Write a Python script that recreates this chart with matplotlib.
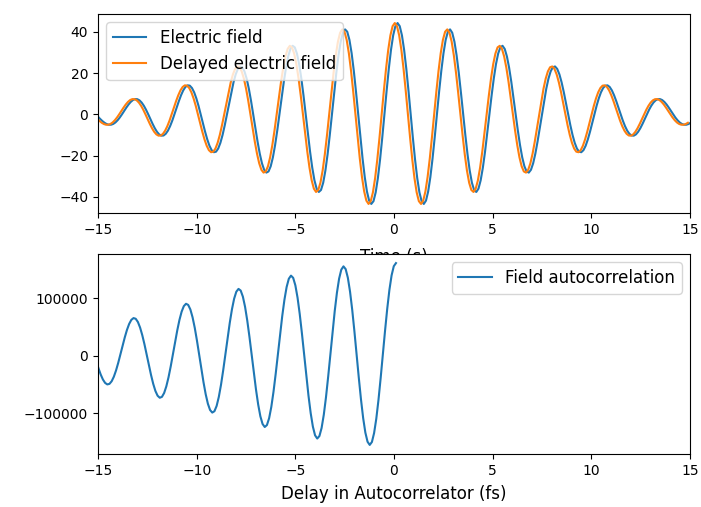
import numpy as np
import matplotlib
matplotlib.use("Agg")
import matplotlib.pyplot as plt

# electric field samples, first / last sample time
field_t_first = -15.004
field_t_last = 15.032
field = [
    -1.11, -2.22, -3.24, -4.10, -4.73, -5.06, -5.05, -4.68, -3.95, -2.88, -1.54, 0.0,
    1.64, 3.27, 4.77, 6.01, 6.92, 7.38, 7.34, 6.78, 5.70, 4.15, 2.21, 0.0,
    -2.34, -4.65, -6.75, -8.50, -9.75, -10.37, -10.29, -9.47, -7.94, -5.76, -3.06, 0.0,
    3.22, 6.38, 9.24, 11.60, 13.26, 14.06, 13.91, 12.76, 10.67, 7.72, 4.09, 0.0,
    -4.28, -8.45, -12.20, -15.28, -17.41, -18.40, -18.15, -16.61, -13.84, -9.99, -5.27, 0.0,
    5.48, 10.79, 15.55, 19.40, 22.04, 23.23, 22.84, 20.84, 17.32, 12.46, 6.56, 0.0,
    -6.78, -13.30, -19.11, -23.77, -26.93, -28.30, -27.74, -25.24, -20.90, -14.99, -7.87, 0.0,
    8.08, 15.82, 22.66, 28.10, 31.73, 33.25, 32.50, 29.48, 24.35, 17.41, 9.11, 0.0,
    -9.30, -18.15, -25.92, -32.05, -36.09, -37.70, -36.73, -33.22, -27.35, -19.50, -10.17, 0.0,
    10.33, 20.09, 28.61, 35.26, 39.58, 41.23, 40.07, 36.12, 29.65, 21.08, 10.96, 0.0,
    -11.06, -21.46, -30.46, -37.44, -41.90, -43.51, -42.15, -37.89, -31.01, -21.98, -11.39, 0.0,
    11.43, 22.11, 31.29, 38.35, 42.78,
    44.30,
    42.78, 38.35, 31.29, 22.11, 11.43, 0.0,
    -11.39, -21.98, -31.01, -37.89, -42.15, -43.51, -41.90, -37.44, -30.46, -21.46, -11.06, 0.0,
    10.96, 21.08, 29.65, 36.12, 40.07, 41.23, 39.58, 35.26, 28.61, 20.09, 10.33, 0.0,
    -10.17, -19.50, -27.35, -33.22, -36.73, -37.70, -36.09, -32.05, -25.92, -18.15, -9.30, 0.0,
    9.11, 17.41, 24.35, 29.48, 32.50, 33.25, 31.73, 28.10, 22.66, 15.82, 8.08, 0.0,
    -7.87, -14.99, -20.90, -25.24, -27.74, -28.30, -26.93, -23.77, -19.11, -13.30, -6.78, 0.0,
    6.56, 12.46, 17.32, 20.84, 22.84, 23.23, 22.04, 19.40, 15.55, 10.79, 5.48, 0.0,
    -5.27, -9.99, -13.84, -16.61, -18.15, -18.40, -17.41, -15.28, -12.20, -8.45, -4.28, 0.0,
    4.09, 7.72, 10.67, 12.76, 13.91, 14.06, 13.26, 11.60, 9.24, 6.38, 3.22, 0.0,
    -3.06, -5.76, -7.94, -9.47, -10.29, -10.37, -9.75, -8.50, -6.75, -4.65, -2.34, 0.0,
    2.21, 4.15, 5.70, 6.78, 7.34, 7.38, 6.92, 6.01, 4.77, 3.27, 1.64, 0.0,
    -1.54, -2.88, -3.95, -4.68, -5.05, -5.06, -4.73, -4.10,
]
# the delayed copy sits slightly to the left
delay = 0.14

# autocorrelation samples (bottom panel)
acorr_t_first = -15.084
acorr_t_last = 0.1
acorr = [
    -10400, -22300, -33000, -41600, -47500, -50200, -49200, -44700, -36800, -25900, -12700, 2000,
    17100, 31700, 44700, 55100, 62200, 65300, 64100, 58500, 48800, 35600, 19700, 2000,
    -16200, -33600, -49100, -61500, -69800, -73400, -71800, -65100, -53500, -37800, -18900, 2000,
    23400, 43900, 62100, 76500, 86100, 90200, 88200, 80200, 66600, 48300, 26200, 2000,
    -22800, -46400, -67300, -83800, -94700, -99200, -96800, -87600, -71900, -50800, -25600, 2000,
    30200, 56900, 80400, 99000, 111200, 116100, 113200, 102600, 84900, 61100, 32900, 2000,
    -29400, -59200, -85200, -105700, -119000, -124300, -120900, -109000, -89300, -63000, -31900, 2000,
    36400, 68900, 97200, 119300, 133700, 139200, 135300, 122300, 100800, 72200, 38600, 2000,
    -35000, -69800, -100000, -123500, -138700, -144400, -140000, -125900, -102900, -72500, -36700, 2000,
    41000, 77600, 109300, 133900, 149600, 155300, 150500, 135500, 111300, 79500, 42200, 2000,
    -38400, -76200, -108800, -134000, -149900, -155500, -150400, -134800, -109900, -77200, -39000, 2000,
    43100, 81400, 114400, 139700, 155600, 161000,
]

t = np.linspace(field_t_first, field_t_last, len(field))
tau = np.linspace(acorr_t_first, acorr_t_last, len(acorr))

fig = plt.figure(figsize=(7.01, 5.07), dpi=100)
ax1 = fig.add_axes([0.1398, 0.5799, 0.8445, 0.3925])
ax2 = fig.add_axes([0.1398, 0.1045, 0.8445, 0.3945])

ax1.plot(t, field, label="Electric field")
ax1.plot(t - delay, field, label="Delayed electric field")
ax1.set_xlim(-15, 15)
ax1.set_xticks([-15, -10, -5, 0, 5, 10, 15])
ax1.set_yticks([-40, -20, 0, 20, 40])
ax1.set_xlabel("Time (s)", fontsize=12, labelpad=8)  # half hidden under the lower panel
ax1.legend(loc="upper left", fontsize=12)

ax2.plot(tau, acorr, label="Field autocorrelation")
ax2.set_xlim(-15, 15)
ax2.set_xticks([-15, -10, -5, 0, 5, 10, 15])
ax2.set_yticks([-100000, 0, 100000])
ax2.set_xlabel("Delay in Autocorrelator (fs)", fontsize=12, labelpad=5)
ax2.legend(loc="upper right", fontsize=12)

fig.savefig("out.png", dpi=100)
